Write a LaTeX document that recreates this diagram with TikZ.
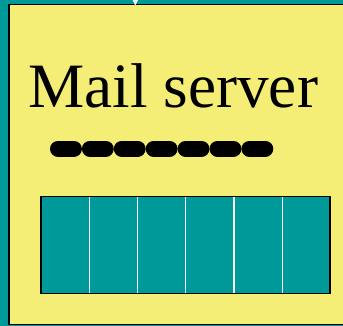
\documentclass[tikz,border=0pt]{standalone}
\usepackage{fontspec}
\setmainfont{Liberation Serif}
\definecolor{tealbg}{RGB}{0,153,153}
\definecolor{paleyellow}{RGB}{245,238,118}
\tikzset{
  dashcap/.style={line width=16pt, line cap=round, black},
  divider/.style={white, line width=1.2pt},
}
\begin{document}
\begin{tikzpicture}[x=1pt,y=-1pt]
\useasboundingbox (0,0) rectangle (343,326);
\fill[tealbg] (0,0) rectangle (343,326);
% server box
\filldraw[fill=paleyellow, draw=black, line width=1.3pt] (9,4.3) rectangle (350,324.8);
% white arrow tip entering from above
\fill[white] (132.6,0) -- (138,0) -- (135.3,5.5) -- cycle;
% title
\node[anchor=base west, inner sep=0pt, font=\fontsize{63.2}{70}\selectfont] (title) at (28.3,108) {Mail server};
% row of dashes
\foreach \i in {0,...,6}{
  \draw[dashcap] ({50+8+\i*31.9},148.7) -- ({50+31.9*(\i+1)-8},148.7);
}
% mailbox queue
\filldraw[fill=tealbg, draw=black, line width=1.3pt] (41,196.8) rectangle (330,293.3);
\foreach \x in {89.3,137.6,185.8,234,282.2}{
  \draw[divider] (\x,197.5) -- (\x,292.6);
}
\end{tikzpicture}
\end{document}
